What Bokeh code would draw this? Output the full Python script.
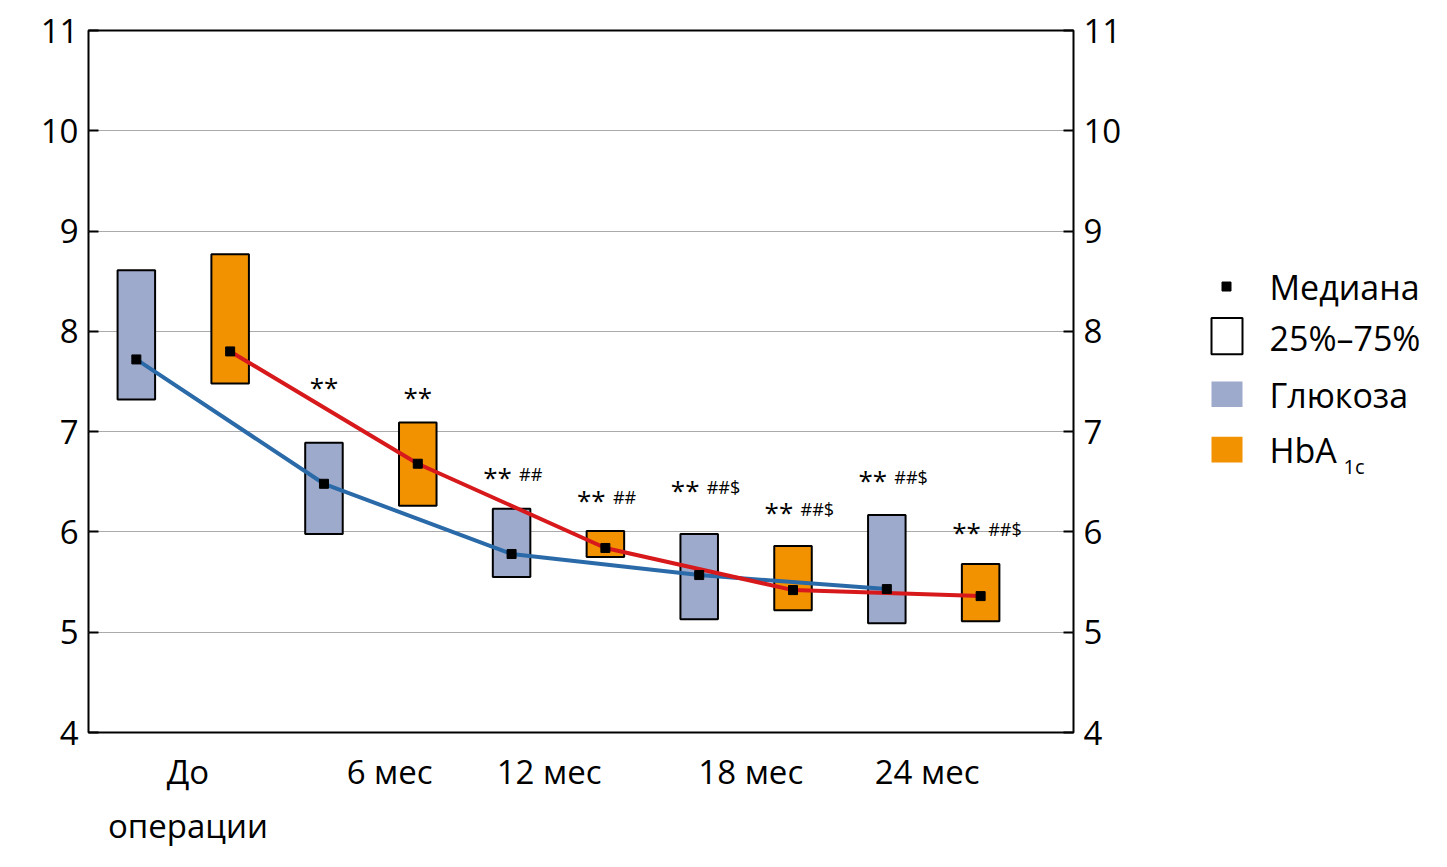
from bokeh.plotting import figure
from bokeh.layouts import row
from bokeh.models import FixedTicker, LinearAxis, Range1d
from bokeh.core.properties import value
from bokeh.embed import file_html
from bokeh.resources import INLINE

FONT = "Open Sans"
# data
glu_x = [0, 2, 4, 6, 8]
glu_q1 = [7.32, 5.98, 5.55, 5.13, 5.09]
glu_q3 = [8.61, 6.89, 6.23, 5.98, 6.17]
glu_med = [7.72, 6.48, 5.78, 5.57, 5.43]
hb_x = [1, 3, 5, 7, 9]
hb_q1 = [7.48, 6.26, 5.75, 5.22, 5.11]
hb_q3 = [8.77, 7.09, 6.01, 5.86, 5.68]
hb_med = [7.80, 6.68, 5.84, 5.42, 5.36]
cat_pos = [0.55, 2.7, 4.4, 6.55, 8.43]
cat_labels = ["До\nоперации", "6 мес", "12 мес", "18 мес", "24 мес"]
star_x = [2, 3, 4, 5, 6, 7, 8, 9]
star_y = [7.45, 7.35, 6.55, 6.32, 6.42, 6.20, 6.52, 6.00]
star_txt = ["**", "**", "**", "**", "**", "**", "**", "**"]
hash_txt = ["", "", "##", "##", "##$", "##$", "##$", "##$"]

p = figure(width=1133, height=850, x_range=Range1d(-0.51, 9.99), y_range=Range1d(4, 11),
           output_backend="svg", toolbar_location=None,
           min_border_left=88, min_border_right=60, min_border_top=30, min_border_bottom=85)
p.outline_line_color = "black"
p.outline_line_width = 2
p.xgrid.visible = False
p.ygrid.ticker = FixedTicker(ticks=list(range(4, 12)))
p.ygrid.grid_line_color = "#aaaaaa"

p.vbar(x=glu_x, bottom=glu_q1, top=glu_q3, width=0.4, fill_color="#9eaacb", line_color="black", line_width=2)
p.vbar(x=hb_x, bottom=hb_q1, top=hb_q3, width=0.4, fill_color="#f39200", line_color="black", line_width=2)
p.line(glu_x, glu_med, line_color="#2a6aa8", line_width=4)
p.line(hb_x, hb_med, line_color="#d7191c", line_width=4)
p.scatter(glu_x, glu_med, marker="square", size=9, color="black")
p.scatter(hb_x, hb_med, marker="square", size=9, color="black")

sx = [x - (0.15 if h else 0) for x, h in zip(star_x, hash_txt)]
p.text(sx, star_y, text=star_txt, text_font=value(FONT), text_font_size="26px",
       text_align="center", text_baseline="middle")
hx = [x + 0.08 for x in star_x]
p.text(hx, [y + 0.03 for y in star_y], text=hash_txt, text_font=value(FONT), text_font_size="18px",
       text_align="left", text_baseline="middle")

p.yaxis.ticker = FixedTicker(ticks=list(range(4, 12)))
right = LinearAxis(ticker=FixedTicker(ticks=list(range(4, 12))))
p.add_layout(right, "right")
for ax in p.yaxis:
    ax.major_label_text_font = FONT
    ax.major_label_text_font_size = "33px"
    ax.major_label_text_color = "black"
    ax.axis_line_color = None
    ax.major_tick_in = 10
    ax.major_tick_out = 0
    ax.major_tick_line_width = 2
    ax.minor_tick_line_color = None
    ax.major_label_standoff = 10
p.xaxis.ticker = FixedTicker(ticks=cat_pos)
p.xaxis.major_label_overrides = {v: l for v, l in zip(cat_pos, cat_labels)}
p.xaxis.major_label_text_font = FONT
p.xaxis.major_label_text_font_size = "33px"
p.xaxis.major_label_text_color = "black"
p.xaxis.major_tick_in = 0
p.xaxis.major_tick_out = 0
p.xaxis.minor_tick_line_color = None
p.xaxis.axis_line_color = None
p.xaxis.major_label_standoff = 16

# legend panel
leg = figure(width=300, height=850, x_range=Range1d(0, 300), y_range=Range1d(850, 0),
             output_backend="svg", toolbar_location=None, min_border=0)
leg.axis.visible = False
leg.grid.visible = False
leg.outline_line_color = None
leg.scatter([93], [310], marker="square", size=9, color="black")
leg.quad(left=[78], right=[109], top=[348], bottom=[392], fill_color="white", line_color="black", line_width=2)
leg.quad(left=[78], right=[109], top=[425], bottom=[456], fill_color="#9eaacb", line_color=None)
leg.quad(left=[78], right=[109], top=[492], bottom=[523], fill_color="#f39200", line_color=None)
leg.text([136, 136, 136, 136], [310, 372, 441, 508], text=["Медиана", "25%–75%", "Глюкоза", "HbA"],
         text_font=value(FONT), text_font_size="34px", text_baseline="middle")
leg.text([210], [528], text=["1c"], text_font=value(FONT), text_font_size="20px", text_baseline="middle")

open("out.html", "w").write(file_html(row(p, leg), INLINE))
